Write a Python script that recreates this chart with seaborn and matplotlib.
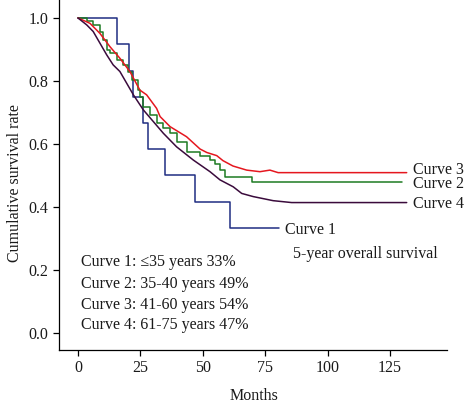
import matplotlib
matplotlib.use("Agg")
import matplotlib.pyplot as plt
import seaborn as sns

# Curve 1: <=35 years
c1_months = [0, 15.5, 20.4, 21.9, 25.9, 28.2, 34.9, 46.9, 60.9, 80.5]
c1_surv = [1.0, 0.917, 0.833, 0.75, 0.667, 0.583, 0.5, 0.417, 0.333, 0.333]

# Curve 2: 35-40 years
c2_months = [0, 3.5, 6.1, 8.8, 10.1, 11.5, 12.8, 15.5, 18.1, 20.2, 21.5, 24.2, 24.8, 26.2,
             28.8, 31.5, 34.2, 36.9, 39.5, 43.5, 48.9, 52.9, 54.9, 56.9, 58.9, 69.6, 129.7]
c2_surv = [1.0, 0.99, 0.978, 0.957, 0.93, 0.898, 0.888, 0.867, 0.851, 0.83, 0.803, 0.771, 0.75,
           0.718, 0.692, 0.666, 0.65, 0.634, 0.607, 0.576, 0.563, 0.549, 0.536, 0.517, 0.496,
           0.48, 0.48]

# Curve 3: 41-60 years
c3_months = [0, 4.8, 8.8, 12.8, 16.8, 20.8, 24.8, 27.5, 31.5, 32.9, 36.9, 43.5, 48.9, 51.6,
             55.6, 58.1, 62.1, 67.6, 72.9, 76.9, 80.2, 131.7]
c3_surv = [1.0, 0.983, 0.951, 0.909, 0.872, 0.83, 0.771, 0.756, 0.713, 0.687, 0.655, 0.623,
           0.584, 0.573, 0.563, 0.547, 0.530, 0.517, 0.512, 0.517, 0.509, 0.509]

# Curve 4: 61-75 years
c4_months = [0, 3.5, 6.1, 8.8, 11.5, 14.1, 16.8, 19.5, 22.2, 26.2, 30.2, 34.2, 39.5, 46.2,
             52.9, 56.9, 62.2, 65.6, 70.2, 78.2, 85.6, 131.7]
c4_surv = [1.0, 0.978, 0.957, 0.92, 0.883, 0.851, 0.83, 0.793, 0.756, 0.708, 0.671, 0.634,
           0.591, 0.549, 0.512, 0.486, 0.464, 0.443, 0.433, 0.42, 0.414, 0.414]

curve_labels = ["Curve 1", "Curve 2", "Curve 3", "Curve 4"]
legend_lines = ["Curve 1: \u226435 years 33%", "Curve 2: 35-40 years 49%",
                "Curve 3: 41-60 years 54%", "Curve 4: 61-75 years 47%"]
x_ticks = [0, 25, 50, 75, 100, 125]
y_ticks = [0.0, 0.2, 0.4, 0.6, 0.8, 1.0]

sns.set_style("ticks")
plt.rcParams["font.family"] = ["Liberation Serif", "DejaVu Serif"]
FS = 11.5
TXT = "#1a1a1a"

fig = plt.figure(figsize=(4.66, 4.0), dpi=100)
ax = fig.add_axes([0.1266, 0.125, 0.959 - 0.1266, 0.875])

colors = {"c1": "#1f2d82", "c2": "#1d7a22", "c3": "#e5171f", "c4": "#3a0b3c"}

sns.lineplot(x=c1_months, y=c1_surv, ax=ax, color=colors["c1"], lw=1.1,
             drawstyle="steps-post", estimator=None, sort=False)
sns.lineplot(x=c2_months, y=c2_surv, ax=ax, color=colors["c2"], lw=1.1,
             drawstyle="steps-post", estimator=None, sort=False)
sns.lineplot(x=c3_months, y=c3_surv, ax=ax, color=colors["c3"], lw=1.1,
             estimator=None, sort=False)
sns.lineplot(x=c4_months, y=c4_surv, ax=ax, color=colors["c4"], lw=1.1,
             estimator=None, sort=False)

ax.set_xlim(-7.6, 147.8)
ax.set_ylim(-0.054, 1.057)
ax.set_xticks(x_ticks)
ax.set_xticklabels([str(t) for t in x_ticks])
ax.set_yticks(y_ticks)
ax.set_yticklabels([f"{t:.1f}" for t in y_ticks])
ax.tick_params(labelsize=FS, length=4, width=0.9, color="black", labelcolor=TXT)
sns.despine(ax=ax)
for sp in ["left", "bottom"]:
    ax.spines[sp].set_linewidth(0.9)
    ax.spines[sp].set_color("black")

ax.set_xlabel("Months", fontsize=FS, color=TXT)
ax.set_ylabel("Cumulative survival rate", fontsize=FS, color=TXT)
ax.xaxis.set_label_coords(0.5026, -0.108)
ax.yaxis.set_label_coords(-0.094, 0.476)

# curve end labels (baseline-anchored)
ax.text(134.2, 0.504, curve_labels[2], fontsize=FS, va="baseline", ha="left", color=TXT)
ax.text(134.2, 0.461, curve_labels[1], fontsize=FS, va="baseline", ha="left", color=TXT)
ax.text(134.2, 0.396, curve_labels[3], fontsize=FS, va="baseline", ha="left", color=TXT)
ax.text(82.9, 0.313, curve_labels[0], fontsize=FS, va="baseline", ha="left", color=TXT)
ax.text(86.1, 0.239, "5-year overall survival", fontsize=FS, va="baseline", ha="left",
        color=TXT)

legend_y = [0.2127, 0.142, 0.075, 0.0117]
for txt, yy in zip(legend_lines, legend_y):
    ax.text(1.1, yy, txt, fontsize=FS, va="baseline", ha="left", color=TXT)

fig.savefig("out.png", dpi=100)
